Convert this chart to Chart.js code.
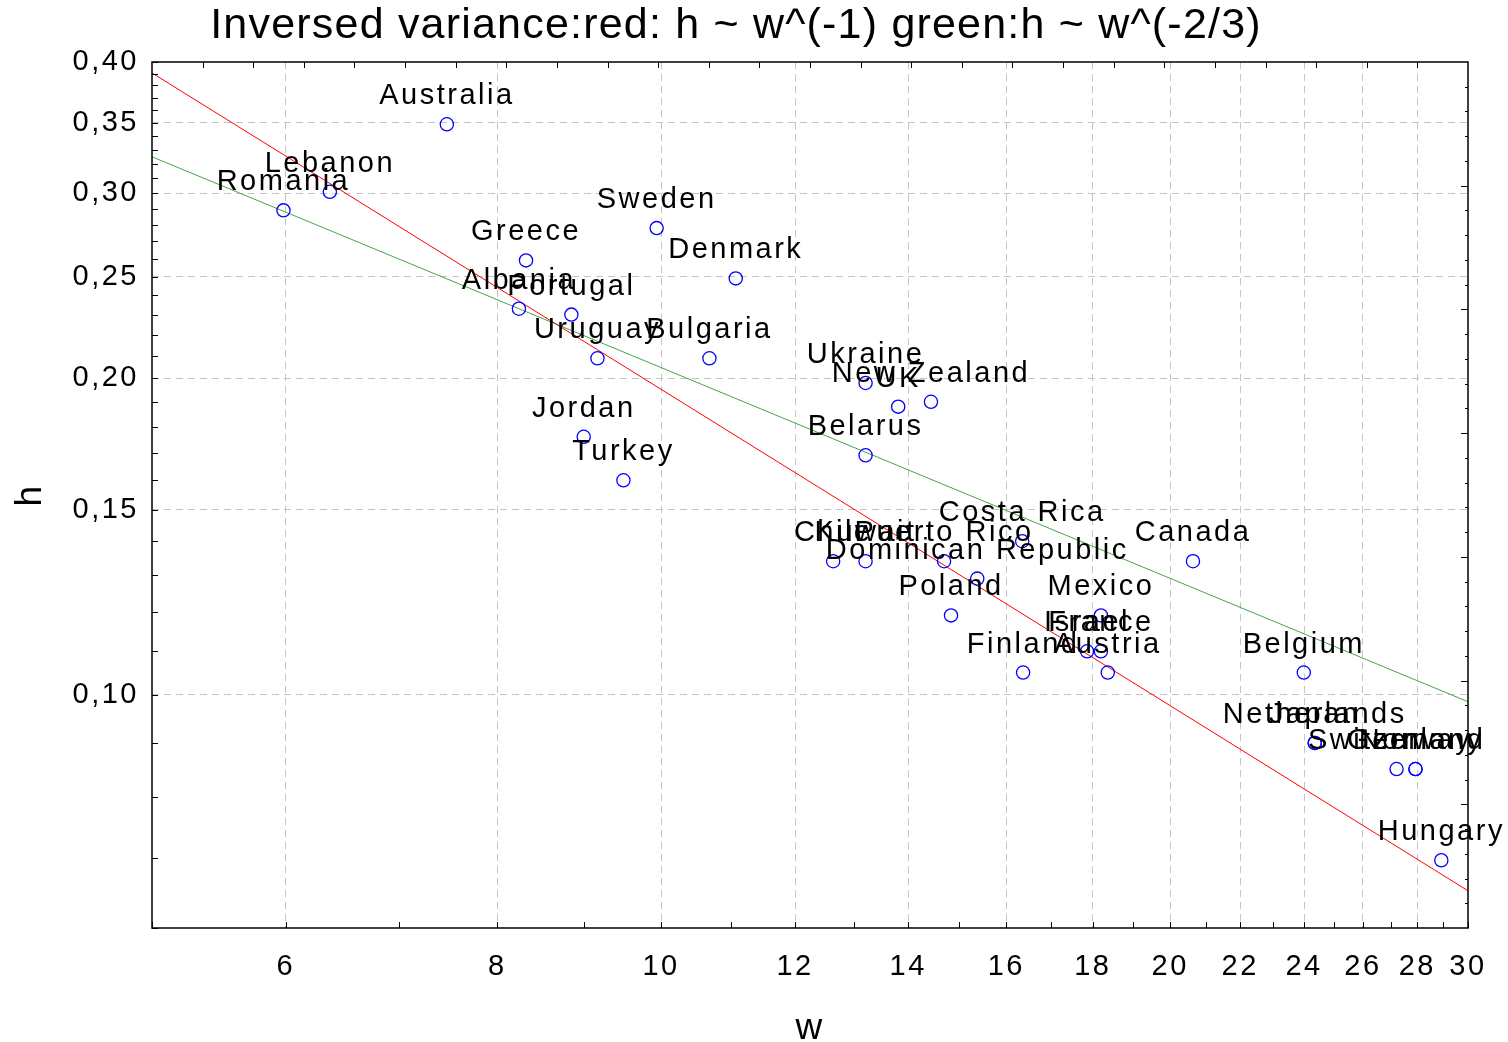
<!DOCTYPE html>
<html>
<head>
<meta charset="utf-8">
<script src="https://cdn.jsdelivr.net/npm/chart.js@4.4.1/dist/chart.umd.min.js"></script>
<style>
  html, body { margin: 0; padding: 0; background: #fff; }
</style>
</head>
<body>
<canvas id="chart" width="1508" height="1042"></canvas>
<script>
const countries = ['Australia', 'Romania', 'Lebanon', 'Sweden', 'Greece', 'Denmark', 'Albania', 'Portugal',
  'Uruguay', 'Bulgaria', 'Jordan', 'Turkey', 'Ukraine', 'UK', 'New Zealand', 'Belarus', 'Chile', 'Kuwait',
  'Puerto Rico', 'Dominican Republic', 'Costa Rica', 'Canada', 'Poland', 'Mexico', 'Israel', 'France',
  'Finland', 'Austria', 'Belgium', 'Netherlands', 'Japan', 'Switzerland', 'Norway', 'Germany', 'Hungary'];
const wValues = [7.47, 5.98, 6.37, 9.94, 8.32, 11.07, 8.24, 8.85,
  9.17, 10.68, 9.00, 9.50, 13.21, 13.81, 14.44, 13.21, 12.64, 13.21,
  14.70, 15.38, 16.35, 20.63, 14.84, 18.20, 17.86, 18.20,
  16.37, 18.37, 23.99, 24.35, 24.35, 27.22, 27.93, 27.93, 28.93];
const hValues = [0.349, 0.289, 0.301, 0.278, 0.259, 0.249, 0.233, 0.230,
  0.209, 0.209, 0.176, 0.160, 0.198, 0.188, 0.190, 0.169, 0.134, 0.134,
  0.134, 0.129, 0.140, 0.134, 0.119, 0.119, 0.110, 0.110,
  0.105, 0.105, 0.105, 0.090, 0.090, 0.085, 0.085, 0.085, 0.0696];

// fitted lines, read at the left and right edge of the plot
const fitW = [5, 30];
const redFitH = [0.3905, 0.0651];
const greenFitH = [0.3250, 0.0985];

const xTickLabels = [6, 8, 10, 12, 14, 16, 18, 20, 22, 24, 26, 28, 30];
const yTickLabels = [0.10, 0.15, 0.20, 0.25, 0.30, 0.35, 0.40];

const TITLE = 'Inversed variance:red: h ~ w^(-1) green:h ~ w^(-2/3)';
const FONT = '"Liberation Sans", Arial, sans-serif';

const xMinor = [];
for (let v = 5; v <= 30; v++) xMinor.push(v);
const yMinor = [];
for (let k = 6; k <= 40; k++) yMinor.push(k / 100);

const isYLabel = v => yTickLabels.some(t => Math.abs(t - v) < 1e-9);

const frame = {
  id: 'frame',
  beforeDraw(chart) {
    chart.ctx.letterSpacing = '2.5px';
  },
  afterDatasetsDraw(chart) {
    const { ctx, chartArea: a, scales: { x, y } } = chart;
    ctx.save();
    ctx.strokeStyle = '#000';
    ctx.lineWidth = 1;
    ctx.beginPath();
    x.ticks.forEach(t => {
      const px = Math.round(x.getPixelForValue(t.value)) + 0.5;
      ctx.moveTo(px, a.bottom);
      ctx.lineTo(px, a.bottom - 6);
    });
    y.ticks.forEach(t => {
      const py = Math.round(y.getPixelForValue(t.value)) + 0.5;
      ctx.moveTo(a.left, py);
      ctx.lineTo(a.left + 6, py);
    });
    // the original frame has its own evenly spaced ticks on top and right
    const w = a.right - a.left, h = a.bottom - a.top;
    for (let i = 1; i < 26; i++) {
      const px = Math.round(a.left + w * i / 26) + 0.5;
      ctx.moveTo(px, a.top);
      ctx.lineTo(px, a.top + 6);
    }
    for (let i = 1; i < 35; i++) {
      const py = Math.round(a.top + h * i / 35) + 0.5;
      ctx.moveTo(a.right, py);
      ctx.lineTo(a.right - (i % 5 === 0 ? 7 : 3), py);
    }
    ctx.stroke();
    ctx.lineWidth = 1.5;
    ctx.strokeRect(a.left, a.top, w, h);

    // country names above each point
    const meta = chart.getDatasetMeta(0);
    ctx.fillStyle = '#000';
    ctx.font = '29px ' + FONT;
    ctx.textAlign = 'center';
    ctx.textBaseline = 'alphabetic';
    meta.data.forEach((el, i) => {
      ctx.fillText(countries[i], el.x, el.y - 20);
    });

    // title, with tighter spacing than the rest of the text
    ctx.letterSpacing = '1.2px';
    ctx.font = '43px ' + FONT;
    ctx.textBaseline = 'middle';
    ctx.fillText(TITLE, a.right / 2 + 2, 26);
    ctx.restore();
  }
};

new Chart(document.getElementById('chart'), {
  type: 'scatter',
  data: {
    datasets: [
      {
        label: 'countries',
        data: wValues.map((w, i) => ({ x: w, y: hValues[i] })),
        pointStyle: 'circle',
        pointRadius: 6.6,
        pointBorderWidth: 1.3,
        pointBorderColor: '#0000ff',
        pointBackgroundColor: 'rgba(0,0,0,0)'
      },
      {
        label: 'red',
        data: fitW.map((w, i) => ({ x: w, y: redFitH[i] })),
        showLine: true,
        borderColor: '#ff0000',
        borderWidth: 1,
        pointRadius: 0
      },
      {
        label: 'green',
        data: fitW.map((w, i) => ({ x: w, y: greenFitH[i] })),
        showLine: true,
        borderColor: '#45a645',
        borderWidth: 1,
        pointRadius: 0
      }
    ]
  },
  options: {
    responsive: false,
    animation: false,
    devicePixelRatio: 1,
    layout: { padding: { left: 0, right: 40, top: 62, bottom: 0 } },
    plugins: {
      legend: { display: false },
      tooltip: { enabled: false },
      title: { display: false }
    },
    scales: {
      x: {
        type: 'logarithmic',
        min: 5,
        max: 30,
        afterBuildTicks: s => { s.ticks = xMinor.map(v => ({ value: v })); },
        afterFit: s => { s.height = 114; },
        ticks: {
          autoSkip: false,
          maxRotation: 0,
          padding: 22,
          color: '#000',
          font: { family: FONT, size: 29, lineHeight: 1.2 },
          callback: v => xTickLabels.includes(v) ? String(v) : ''
        },
        grid: {
          drawTicks: false,
          lineWidth: 1,
          color: c => (c.tick && xTickLabels.includes(c.tick.value) && c.tick.value < 30) ? '#c4c4c4' : 'rgba(0,0,0,0)'
        },
        border: { display: false, dash: [7, 5] },
        title: {
          display: true,
          text: 'w',
          color: '#000',
          font: { family: FONT, size: 37, lineHeight: 1.2 },
          padding: { top: 0, bottom: -9 }
        }
      },
      y: {
        type: 'logarithmic',
        min: 0.06,
        max: 0.40,
        afterBuildTicks: s => { s.ticks = yMinor.map(v => ({ value: v })); },
        afterFit: s => { s.width = 152; },
        ticks: {
          autoSkip: false,
          padding: 13,
          color: '#000',
          font: { family: FONT, size: 29, lineHeight: 1.2 },
          callback: v => isYLabel(v) ? v.toFixed(2).replace('.', ',') : ''
        },
        grid: {
          drawTicks: false,
          lineWidth: 1,
          color: c => (c.tick && isYLabel(c.tick.value) && c.tick.value < 0.395) ? '#c4c4c4' : 'rgba(0,0,0,0)'
        },
        border: { display: false, dash: [7, 5] },
        title: {
          display: true,
          text: 'h',
          color: '#000',
          font: { family: FONT, size: 37, lineHeight: 1.2 },
          padding: { top: 9, bottom: 0 }
        }
      }
    }
  },
  plugins: [frame]
});
</script>
</body>
</html>
